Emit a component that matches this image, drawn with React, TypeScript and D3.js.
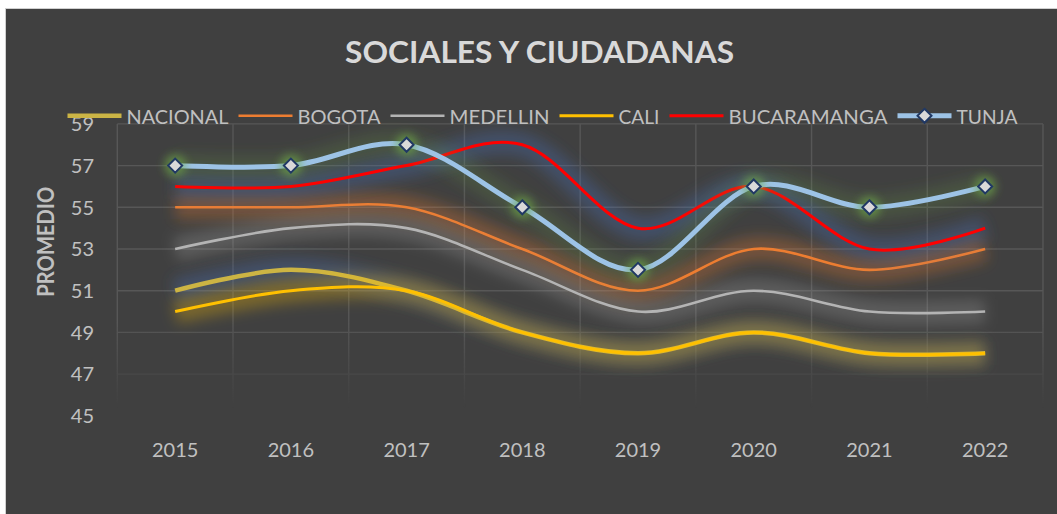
import React from "react";
import * as d3 from "d3";

const years = ["2015", "2016", "2017", "2018", "2019", "2020", "2021", "2022"];
const nacional = [51, 52, 51, 49, 48, 49, 48, 48];
const bogota = [55, 55, 55, 53, 51, 53, 52, 53];
const medellin = [53, 54, 54, 52, 50, 51, 50, 50];
const cali = [50, 51, 51, 49, 48, 49, 48, 48];
const bucaramanga = [56, 56, 57, 58, 54, 56, 53, 54];
const tunja = [57, 57, 58, 55, 52, 56, 55, 56];
const yTicks = [45, 47, 49, 51, 53, 55, 57, 59];

const seriesNames = ["NACIONAL", "BOGOTA", "MEDELLIN", "CALI", "BUCARAMANGA", "TUNJA"];
const seriesValues = [nacional, bogota, medellin, cali, bucaramanga, tunja];
const seriesColors = ["#cbb445", "#ed7d31", "#b4b4b4", "#ffc000", "#ff0000", "#9dc3e6"];
const seriesGlow = ["#4472c4", "#ed7d31", "#a5a5a5", "#ffc000", "#4472c4", "#70ad47"];
const seriesGlowOpacity = [0.3, 0.3, 0.28, 0.3, 0.3, 0.18];
const seriesWidths = [4.5, 2.6, 2.6, 3, 3, 5];
const legendTextWidths = [102, 83, 100, 41, 159, 61];

const W = 1057;
const H = 514;
const FONT = "Lato, 'Open Sans', sans-serif";

export default function App() {
  const x = d3.scaleBand<string>().domain(years).range([117.3, 1043]).padding(0);
  const cx = (yr: string) => (x(yr) as number) + x.bandwidth() / 2;
  const y = d3.scaleLinear().domain([45, 59]).range([415.8, 123.9]);

  const line = d3
    .line<number>()
    .x((_, i) => cx(years[i]))
    .y((v) => y(v))
    .curve(d3.curveCatmullRom.alpha(0));

  const legendItems: { x: number; name: string; color: string; width: number; tw: number; idx: number }[] = [];
  let lx = 67.5;
  seriesNames.forEach((name, i) => {
    legendItems.push({ x: lx, name, color: seriesColors[i], width: seriesWidths[i], tw: legendTextWidths[i], idx: i });
    lx += 54 + 5 + legendTextWidths[i] + 10;
  });
  const legendY = 115.8;

  const diamond = "M0,-7L7,0L0,7L-7,0Z";
  const plotLeft = 117.3;
  const plotRight = 1043;

  return (
    <div style={{ position: "fixed", left: 0, top: 0, width: W, height: H, background: "#fff" }}>
      <svg width={W} height={H} style={{ display: "block" }}>
        <defs>
          <filter id="glow" filterUnits="userSpaceOnUse" x={0} y={0} width={W} height={H}>
            <feGaussianBlur stdDeviation={7} />
          </filter>
          <filter id="mglow" filterUnits="userSpaceOnUse" x={0} y={0} width={W} height={H}>
            <feGaussianBlur stdDeviation={4} />
          </filter>
          <linearGradient id="fadeGrad" gradientUnits="userSpaceOnUse" x1={0} y1={320} x2={0} y2={408}>
            <stop offset="0" stopColor="#fff" stopOpacity={1} />
            <stop offset="1" stopColor="#fff" stopOpacity={0} />
          </linearGradient>
          <mask id="fadeMask" maskUnits="userSpaceOnUse" x={0} y={0} width={W} height={H}>
            <rect x={0} y={0} width={W} height={H} fill="url(#fadeGrad)" />
          </mask>
        </defs>
        <rect x={5.5} y={8.5} width={W} height={H} fill="#404040" stroke="#d0d0d0" strokeWidth={1} />

        <text
          x={539.6}
          y={63.3}
          textAnchor="middle"
          fontFamily={FONT}
          fontWeight="bold"
          fontSize={31}
          fill="#d9d9d9"
          textLength={389}
          lengthAdjust="spacingAndGlyphs"
        >
          SOCIALES Y CIUDADANAS
        </text>

        <g mask="url(#fadeMask)" stroke="#575757" strokeWidth={1.4}>
          {yTicks.map((t) => (
            <line key={"h" + t} x1={plotLeft} x2={plotRight} y1={y(t)} y2={y(t)} />
          ))}
          {years.map((yr) => (
            <line key={"v" + yr} x1={x(yr) as number} x2={x(yr) as number} y1={y(59)} y2={y(45)} />
          ))}
          <line x1={plotRight} x2={plotRight} y1={y(59)} y2={y(45)} />
        </g>

        {yTicks.map((t) => (
          <text key={"yt" + t} x={94} y={y(t)} dy="0.36em" textAnchor="end" fontFamily={FONT} fontSize={20} fill="#c0c0c0">
            {t}
          </text>
        ))}

        {years.map((yr) => (
          <text key={"xt" + yr} x={cx(yr)} y={456.7} textAnchor="middle" fontFamily={FONT} fontSize={20} fill="#c0c0c0">
            {yr}
          </text>
        ))}

        <text
          transform={`translate(53.5,241.7) rotate(-90)`}
          textAnchor="middle"
          fontFamily={FONT}
          fontWeight="bold"
          fontSize={22}
          fill="#c0c0c0"
          textLength={110}
          lengthAdjust="spacingAndGlyphs"
        >
          PROMEDIO
        </text>

        {seriesValues.map((vals, i) => {
          const d = line(vals) || "";
          return (
            <g key={"s" + i}>
              <path
                d={d}
                fill="none"
                stroke={seriesGlow[i]}
                strokeWidth={24}
                strokeOpacity={seriesGlowOpacity[i]}
                strokeLinecap="butt"
                filter="url(#glow)"
              />
              <path d={d} fill="none" stroke={seriesColors[i]} strokeWidth={seriesWidths[i]} strokeLinecap="butt" />
            </g>
          );
        })}

        <g>
          {tunja.map((v, i) => (
            <circle key={"mg" + i} cx={cx(years[i])} cy={y(v)} r={11} fill="#70ad47" fillOpacity={0.6} filter="url(#mglow)" />
          ))}
          {tunja.map((v, i) => (
            <path
              key={"m" + i}
              d={diamond}
              transform={`translate(${cx(years[i])},${y(v)})`}
              fill="#d9d9d9"
              stroke="#203864"
              strokeWidth={2}
            />
          ))}
        </g>

        {legendItems.map((it) => (
          <g key={"lg" + it.name}>
            <line x1={it.x} x2={it.x + 54} y1={legendY} y2={legendY} stroke={it.color} strokeWidth={it.width} />
            {it.idx === 5 && (
              <path d={diamond} transform={`translate(${it.x + 27},${legendY})`} fill="#d9d9d9" stroke="#203864" strokeWidth={2} />
            )}
            <text
              x={it.x + 59}
              y={123.7}
              fontFamily={FONT}
              fontSize={20}
              fill="#c0c0c0"
              textLength={it.tw}
              lengthAdjust="spacingAndGlyphs"
            >
              {it.name}
            </text>
          </g>
        ))}
      </svg>
    </div>
  );
}
